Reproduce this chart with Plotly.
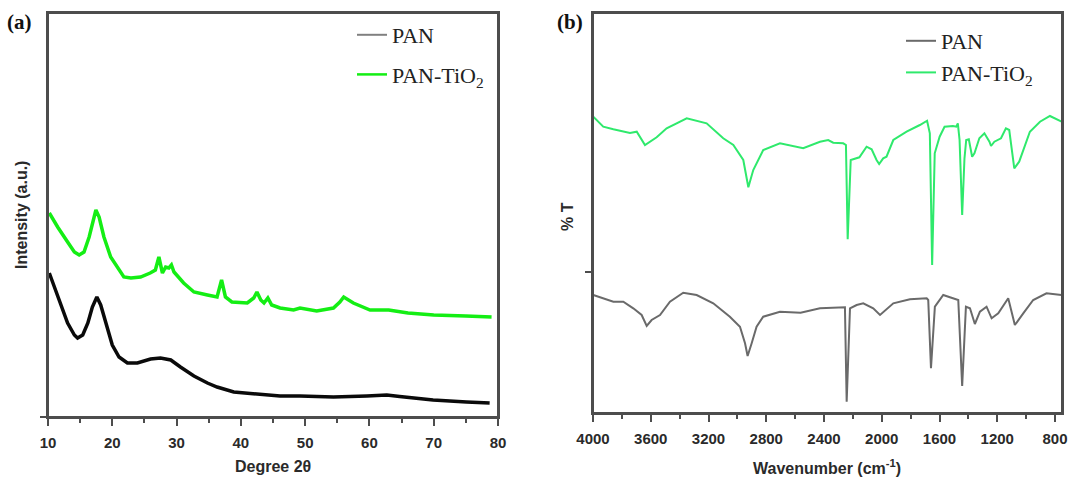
import plotly.graph_objects as go

# ---------------- (a) XRD data ----------------
xrd_pan_2theta = [10.2, 11.0, 12.0, 13.05, 14.1, 14.6, 15.4, 16.2, 16.9, 17.6, 18.2, 19.0, 20.0,
                  21.05, 22.35, 23.9, 25.95, 27.5, 29.1, 30.6, 32.7, 34.8, 36.3, 38.9, 42.5, 46.1,
                  49.2, 54.4, 59.6, 62.7, 64.7, 69.9, 75.1, 78.7]
xrd_pan_intensity = [144, 130, 110, 94, 82, 79, 82, 94, 110, 120, 112, 94, 72,
                     60, 54, 54, 58, 59, 57, 50, 41, 34, 30, 25, 23, 21,
                     21, 20, 21, 22, 20.5, 17, 15, 14]

xrd_tio2_2theta = [10.2, 11.5, 13.05, 14.1, 14.85, 15.6, 16.4, 17.1, 17.45, 17.95, 18.7, 19.75,
                   20.8, 21.8, 22.9, 24.4, 25.9, 26.7, 27.25, 27.8, 28.3, 28.8, 29.2, 29.6, 31.1,
                   32.7, 34.8, 36.3, 37.0, 37.6, 38.6, 41.0, 42.0, 42.5, 43.1, 43.6, 44.2, 44.8,
                   46.1, 48.2, 49.2, 51.8, 54.4, 55.4, 56.0, 57.5, 60.1, 63.0, 66.0, 70.0, 75.0, 79.0]
xrd_tio2_intensity = [204, 190, 175, 165, 162, 165, 180, 200, 207, 200, 180, 160,
                      149, 140, 139, 140, 144, 147, 160, 144, 150, 149, 152, 145, 134,
                      125, 122, 120, 137, 120, 115, 114, 119, 125, 117, 114, 119, 112,
                      109, 107, 109, 106, 109, 115, 120, 114, 107, 107, 104, 102, 101, 100]

# ---------------- (b) FTIR data ----------------
ftir_pan_wn = [3998, 3929, 3859, 3790, 3721, 3663, 3628, 3594, 3536, 3467, 3375, 3282, 3167, 3052,
               2982, 2947, 2929, 2901, 2867, 2821, 2705, 2562, 2428, 2255, 2243, 2220, 2174, 2128,
               2059, 2012, 1920, 1805, 1689, 1678, 1659, 1632, 1574, 1528, 1482, 1470, 1443, 1417,
               1389, 1355, 1320, 1274, 1239, 1193, 1124, 1078, 1020, 951, 859, 755]
ftir_pan_T = [118, 114.7, 111.3, 111.3, 104.7, 98, 87, 93, 98, 111.3, 120.3, 118, 109.7, 96.3,
              86.3, 69.7, 57, 69.7, 86.3, 96.3, 101.3, 100.3, 104.7, 105.7, 11.3, 104.7, 108, 109.7,
              104.7, 98, 109.7, 113.7, 114.7, 113, 44.7, 106.3, 118, 115.7, 113.7, 113, 27, 106.3,
              104.7, 89, 101.3, 106.3, 94.7, 99.7, 114.7, 88, 99.7, 113, 119.7, 118]

ftir_tio2_wn = [3998, 3929, 3859, 3790, 3744, 3697, 3640, 3559, 3490, 3351, 3213, 3098, 3028, 2959,
                2924, 2890, 2821, 2705, 2544, 2428, 2371, 2336, 2267, 2248, 2236, 2215, 2185, 2155,
                2105, 2070, 2036, 2018, 1990, 1967, 1920, 1828, 1736, 1686, 1667, 1651, 1633, 1599,
                1565, 1507, 1484, 1473, 1461, 1443, 1427, 1415, 1397, 1374, 1358, 1324, 1289, 1254,
                1243, 1220, 1174, 1140, 1117, 1082, 1048, 1020, 974, 904, 835, 754]
ftir_tio2_T = [296.3, 286.3, 283.7, 281.3, 280, 281.3, 268, 275.7, 284.7, 294.7, 289.7, 274.7, 268, 253,
               225.7, 243, 263, 269.7, 264.7, 271.3, 273, 270.3, 269.7, 268, 173.7, 253, 254.7, 255.7,
               266.3, 263.7, 253, 249, 254.7, 256.3, 273, 281.3, 288, 292.3, 279.7, 148, 259.7, 276.3,
               286.3, 287, 286.3, 289.7, 273, 198, 254.7, 273, 273.7, 256.3, 259.7, 274.7, 279.7, 271.3,
               267, 271.3, 274.7, 284.7, 283, 244.7, 251.3, 263, 281.3, 291.3, 297, 291.3]

series_names = ["PAN", "PAN-TiO<sub>2</sub>"]
xrd_ticks = [10, 20, 30, 40, 50, 60, 70, 80]
ftir_ticks = [4000, 3600, 3200, 2800, 2400, 2000, 1600, 1200, 800]

W, H = 1071, 483
def px(x):
    return x / W
def py(y):
    return 1 - y / H

XRD_BLACK = "#0a0a0a"
XRD_GREEN = "#14ee14"
FTIR_GRAY = "#6a6a6a"
FTIR_GREEN = "#2fe96c"
FRAME = "#4d4d4d"

fig = go.Figure()

# (a) curves
fig.add_trace(go.Scatter(x=xrd_pan_2theta, y=xrd_pan_intensity, mode="lines",
                         line=dict(color=XRD_BLACK, width=3.5), showlegend=False,
                         xaxis="x", yaxis="y"))
fig.add_trace(go.Scatter(x=xrd_tio2_2theta, y=xrd_tio2_intensity, mode="lines",
                         line=dict(color=XRD_GREEN, width=3.5), showlegend=False,
                         xaxis="x", yaxis="y"))
# (a) legend entries
fig.add_trace(go.Scatter(x=[None], y=[None], mode="lines", name=series_names[0],
                         line=dict(color="#808080", width=2), legend="legend",
                         legendgroup="a1", xaxis="x", yaxis="y"))
fig.add_trace(go.Scatter(x=[None], y=[None], mode="lines", name=series_names[1],
                         line=dict(color=XRD_GREEN, width=2.5), legend="legend",
                         legendgroup="a2", xaxis="x", yaxis="y"))

# (b) curves
fig.add_trace(go.Scatter(x=ftir_pan_wn, y=ftir_pan_T, mode="lines", name=series_names[0],
                         line=dict(color=FTIR_GRAY, width=2), legend="legend2",
                         legendgroup="b1", xaxis="x2", yaxis="y2"))
fig.add_trace(go.Scatter(x=ftir_tio2_wn, y=ftir_tio2_T, mode="lines", name=series_names[1],
                         line=dict(color=FTIR_GREEN, width=2), legend="legend2",
                         legendgroup="b2", xaxis="x2", yaxis="y2"))

tickfont = dict(family="Liberation Sans, Arial, sans-serif", size=15, color="#2a2a2a", weight="bold")
legfont = dict(family="Liberation Serif, Times New Roman, serif", size=22, color="#222222")
titlefont = dict(family="Liberation Sans, Arial, sans-serif", size=16, color="#2a2a2a", weight="bold")

common_x = dict(showgrid=False, zeroline=False, showline=True, linecolor=FRAME, linewidth=2,
                mirror=True, ticks="outside", ticklen=7, tickwidth=2, tickcolor=FRAME,
                tickfont=tickfont, ticklabelstandoff=4, automargin=False)
common_y = dict(showgrid=False, zeroline=False, showline=True, linecolor=FRAME, linewidth=2,
                mirror=True, ticks="outside", ticklen=6, tickwidth=2, tickcolor=FRAME,
                showticklabels=False, automargin=False)

frame_shapes = [
    dict(type="rect", xref="x domain", yref="y domain", x0=0, x1=1, y0=0, y1=1,
         line=dict(color=FRAME, width=2), layer="above"),
    dict(type="rect", xref="x2 domain", yref="y2 domain", x0=0, x1=1, y0=0, y1=1,
         line=dict(color=FRAME, width=2), layer="above"),
]

fig.update_layout(
    template="none",
    width=W, height=H, autosize=False,
    margin=dict(l=0, r=0, t=0, b=0, pad=0),
    paper_bgcolor="white", plot_bgcolor="white",
    xaxis=dict(domain=[px(48), px(498)], range=[10, 80], tickvals=xrd_ticks,
               minor=dict(dtick=5, tick0=10, ticks="outside", ticklen=4, tickwidth=2, tickcolor=FRAME),
               anchor="y", **common_x),
    yaxis=dict(domain=[py(417), py(13)], range=[0, 404], tickvals=[0], anchor="x", **common_y),
    xaxis2=dict(domain=[px(593), px(1062)], range=[4000, 751.5], tickvals=ftir_ticks,
                minor=dict(dtick=200, tick0=800, ticks="outside", ticklen=4, tickwidth=2, tickcolor=FRAME),
                anchor="y2", **common_x),
    yaxis2=dict(domain=[py(413), py(13)], range=[0, 400], tickvals=[141], anchor="x2", **common_y),
    shapes=frame_shapes,
    legend=dict(x=px(352), y=py(14), xanchor="left", yanchor="top", bgcolor="rgba(0,0,0,0)",
                font=legfont, traceorder="grouped", tracegroupgap=8),
    legend2=dict(x=px(901), y=py(20), xanchor="left", yanchor="top", bgcolor="rgba(0,0,0,0)",
                 font=legfont, traceorder="grouped", tracegroupgap=0),
    annotations=[
        dict(text="(a)", x=px(5), y=py(22), xref="paper", yref="paper", xanchor="left",
             yanchor="middle", showarrow=False,
             font=dict(family="Liberation Serif, Times New Roman, serif", size=21, color="#111", weight="bold")),
        dict(text="(b)", x=px(555), y=py(22), xref="paper", yref="paper", xanchor="left",
             yanchor="middle", showarrow=False,
             font=dict(family="Liberation Serif, Times New Roman, serif", size=21, color="#111", weight="bold")),
        dict(text="Degree 2θ", x=px(273), y=py(466), xref="paper", yref="paper",
             xanchor="center", yanchor="middle", showarrow=False, font=titlefont),
        dict(text="Wavenumber (cm<sup>-1</sup>)", x=px(827), y=py(467), xref="paper", yref="paper",
             xanchor="center", yanchor="middle", showarrow=False, font=titlefont),
        dict(text="Intensity (a.u.)", x=px(21), y=py(215), xref="paper", yref="paper",
             xanchor="center", yanchor="middle", textangle=-90, showarrow=False, font=titlefont),
        dict(text="% T", x=px(567), y=py(217), xref="paper", yref="paper",
             xanchor="center", yanchor="middle", textangle=-90, showarrow=False, font=titlefont),
    ],
)

fig.write_html("out.html", config={"displayModeBar": False},
               post_script="document.body.style.margin='0';document.body.style.overflow='hidden';")
